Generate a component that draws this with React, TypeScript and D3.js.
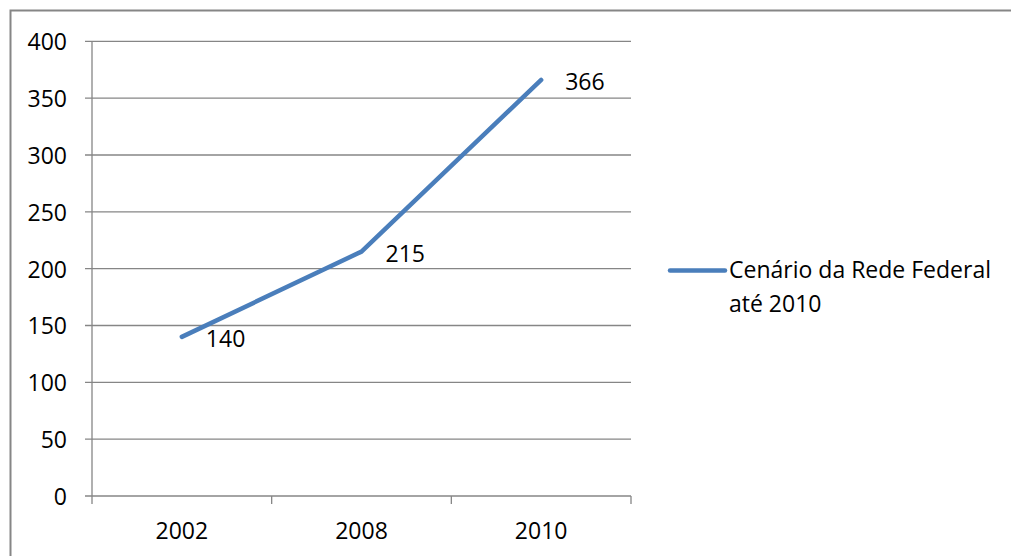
import React from "react";
import * as d3 from "d3";

const years = ["2002", "2008", "2010"];
const values = [140, 215, 366];
const yTicks = [0, 50, 100, 150, 200, 250, 300, 350, 400];
const seriesName = ["Cenário da Rede Federal", "até 2010"];

const W = 1011;
const H = 556;
const FONT = "'Open Sans', sans-serif";
const FS = 23;
const GRID = "#868686";
const LINE = "#4a7ebb";

export default function App() {
  const x = d3.scaleBand<string>().domain(years).range([92, 631]).padding(0);
  const y = d3.scaleLinear().domain([0, 400]).range([496, 41.3]);
  const cx = (d: string) => (x(d) ?? 0) + x.bandwidth() / 2;

  const line = d3
    .line<number>()
    .x((_, i) => cx(years[i]))
    .y((v) => y(v));

  const bandEdges = [...years.map((d) => x(d) ?? 0), 631];

  return (
    <div style={{ position: "fixed", left: 0, top: 0, width: W, height: H, background: "#fff" }}>
      <svg width={W} height={H} style={{ display: "block", fontFamily: FONT }}>
        <rect x={0} y={0} width={W} height={H} fill="#fff" />
        {/* chart frame */}
        <path d={`M10.5,${H + 5} V10.5 H${W + 5}`} fill="none" stroke={GRID} strokeWidth={2} />

        {/* horizontal gridlines and y ticks */}
        {yTicks.map((t) => (
          <g key={t}>
            <line x1={85} x2={631} y1={y(t)} y2={y(t)} stroke={GRID} strokeWidth={1.3} />
            <text x={67} y={y(t)} textAnchor="end" dominantBaseline="central" fontSize={FS} fill="#000">
              {t}
            </text>
          </g>
        ))}

        {/* value axis */}
        <line x1={92} x2={92} y1={y(400)} y2={y(0)} stroke={GRID} strokeWidth={1.3} />

        {/* category tick marks */}
        {bandEdges.map((bx, i) => (
          <line key={i} x1={bx} x2={bx} y1={y(0)} y2={y(0) + 8} stroke={GRID} strokeWidth={1.3} />
        ))}
        {years.map((d) => (
          <text key={d} x={cx(d)} y={539} textAnchor="middle" fontSize={FS} fill="#000">
            {d}
          </text>
        ))}

        {/* series */}
        <path
          d={line(values) ?? ""}
          fill="none"
          stroke={LINE}
          strokeWidth={4.5}
          strokeLinecap="round"
          strokeLinejoin="round"
        />
        {values.map((v, i) => (
          <text
            key={i}
            x={cx(years[i]) + 24}
            y={y(v) + 1}
            dominantBaseline="central"
            fontSize={FS}
            fill="#000"
          >
            {v}
          </text>
        ))}

        {/* legend */}
        <line x1={670} x2={725} y1={270.5} y2={270.5} stroke={LINE} strokeWidth={4.5} strokeLinecap="round" />
        <text x={729} y={278} fontSize={FS} fill="#000">
          <tspan x={729}>{seriesName[0]}</tspan>
          <tspan x={729} dy={33.5}>{seriesName[1]}</tspan>
        </text>
      </svg>
    </div>
  );
}
